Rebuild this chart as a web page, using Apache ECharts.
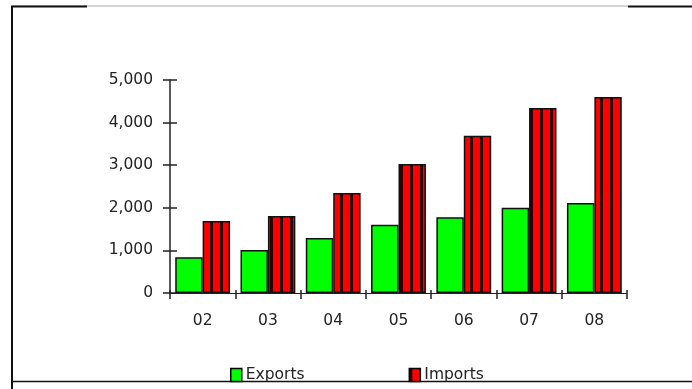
<!DOCTYPE html>
<html>
<head>
<meta charset="utf-8">
<script src="https://cdn.jsdelivr.net/npm/echarts@6/dist/echarts.min.js"></script>
<style>html,body{margin:0;padding:0;background:#fff}#c{width:692px;height:389px}</style>
</head>
<body>
<div id="c"></div>
<script>
var categories = ['02', '03', '04', '05', '06', '07', '08'];
var exportsValues = [840, 1010, 1290, 1600, 1780, 2000, 2110];
var importsValues = [1690, 1810, 2350, 3030, 3690, 4340, 4600];
var yTicks = [0, 1000, 2000, 3000, 4000, 5000];

var pc = document.createElement('canvas');
pc.width = 10; pc.height = 10;
var g = pc.getContext('2d');
g.fillStyle = '#ff0000'; g.fillRect(0, 0, 10, 10);
g.fillStyle = '#300000'; g.fillRect(0, 0, 3, 10);

var font = 'DejaVu Sans';
var txt = '#222';
var chart = echarts.init(document.getElementById('c'), null, {renderer: 'canvas'});
chart.setOption({
  animation: false,
  backgroundColor: '#fff',
  grid: {left: 170, right: 65, top: 80, bottom: 96, containLabel: false},
  legend: {
    left: 225, top: 362, itemWidth: 11, itemHeight: 13, itemGap: 104,
    icon: 'rect',
    textStyle: {fontFamily: font, fontSize: 15.5, color: txt, padding: [0, 0, 0, -1]},
    data: ['Exports', 'Imports'],
    itemStyle: {borderColor: '#000', borderWidth: 1.5}
  },
  xAxis: [{
    type: 'category', data: categories,
    axisLine: {lineStyle: {color: '#222', width: 1}},
    axisTick: {show: true, length: 6, lineStyle: {color: '#222', width: 1.5}},
    axisLabel: {fontFamily: font, fontSize: 15.5, color: txt, margin: 20}
  }, {
    type: 'category', data: categories, position: 'bottom',
    axisLine: {show: false},
    axisTick: {show: true, inside: true, length: 3, lineStyle: {color: '#222', width: 1.5}},
    axisLabel: {show: false}
  }],
  yAxis: [{
    type: 'value', min: yTicks[0], max: yTicks[yTicks.length - 1], interval: 1000,
    splitLine: {show: false},
    axisLine: {show: true, lineStyle: {color: '#222', width: 1.5}},
    axisTick: {show: true, length: 7, lineStyle: {color: '#222', width: 1.5}},
    axisLabel: {fontFamily: font, fontSize: 15.5, color: txt, margin: 17,
      formatter: function (v) { return v.toLocaleString('en-US'); }}
  }, {
    type: 'value', min: yTicks[0], max: yTicks[yTicks.length - 1], interval: 1000,
    position: 'left', splitLine: {show: false},
    axisLine: {show: false},
    axisTick: {show: true, inside: true, length: 7, lineStyle: {color: '#222', width: 1.5}},
    axisLabel: {show: false}
  }],
  series: [{
    name: 'Exports', type: 'bar', data: exportsValues,
    barGap: '0%', barCategoryGap: '16%',
    itemStyle: {color: '#00ff00', borderColor: '#111', borderWidth: 1.5}
  }, {
    name: 'Imports', type: 'bar', data: importsValues,
    barGap: '0%', barCategoryGap: '16%',
    itemStyle: {color: {image: pc, repeat: 'repeat'}, borderColor: '#111', borderWidth: 1.5}
  }],
  graphic: [
    {type: 'line', shape: {x1: 12, y1: 6, x2: 628, y2: 6}, style: {stroke: '#aaa', lineWidth: 1}},
    {type: 'line', shape: {x1: 11, y1: 6.5, x2: 87, y2: 6.5}, style: {stroke: '#111', lineWidth: 2}},
    {type: 'line', shape: {x1: 628, y1: 6.5, x2: 692, y2: 6.5}, style: {stroke: '#111', lineWidth: 2}},
    {type: 'line', shape: {x1: 12, y1: 6, x2: 12, y2: 389}, style: {stroke: '#111', lineWidth: 2}},
    {type: 'line', shape: {x1: 11, y1: 381.5, x2: 692, y2: 381.5}, style: {stroke: '#111', lineWidth: 1.5}}
  ]
});
</script>
</body>
</html>
